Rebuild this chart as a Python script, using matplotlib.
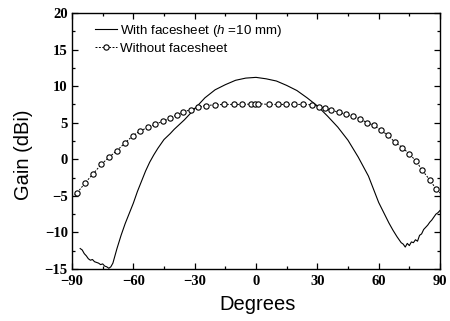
import matplotlib
matplotlib.use("Agg")
import matplotlib.pyplot as plt
from matplotlib.ticker import MultipleLocator

plt.rcParams['mathtext.fontset'] = 'custom'
plt.rcParams['mathtext.it'] = 'Liberation Sans:italic'
plt.rcParams['mathtext.rm'] = 'Liberation Sans'

# With facesheet (solid line)
ang_with = [-86, -85, -84, -83, -82, -81, -80, -79, -78, -77, -76, -75, -74, -73, -72,
            -71, -70, -69, -68, -67, -66, -65, -64, -62, -60, -58, -56, -54, -52, -50,
            -48, -45, -42, -40, -35, -30, -25, -20, -15, -10, -5, 0, 5, 10, 15, 20, 25,
            30, 35, 40, 45, 50, 55, 60, 65, 67, 69, 70, 71, 72, 73, 74, 75, 76, 77,
            78, 79, 80, 81, 82, 83, 84, 85, 86, 87, 88, 89, 90]
gain_with = [-12.2, -12.4, -12.9, -13.2, -13.6, -13.8, -13.7, -14.0, -14.1, -14.2, -14.4,
             -14.3, -14.6, -14.7, -14.9, -14.7, -14.2, -13.2, -12.2, -11.3, -10.4, -9.6,
             -8.8, -7.4, -6.0, -4.4, -3.0, -1.6, -0.4, 0.6, 1.5, 2.7, 3.5, 4.1, 5.4, 6.9,
             8.4, 9.5, 10.2, 10.8, 11.1, 11.2, 11.0, 10.7, 10.1, 9.4, 8.4, 7.3, 5.9, 4.4,
             2.6, 0.3, -2.3, -5.9, -8.7, -9.7, -10.6, -11.0, -11.4, -11.6, -12.0,
             -11.5, -11.8, -11.3, -11.4, -11.0, -11.2, -10.4, -10.2, -9.6, -9.3, -9.0,
             -8.6, -8.3, -7.9, -7.5, -7.3, -7.0]

# Without facesheet (open circles)
ang_without = [-90, -87.5, -83.5, -79.7, -75.7, -71.8, -68, -64.2, -60.3, -56.6, -52.8,
               -49.2, -45.5, -42, -38.7, -35.5, -32, -28.5, -24.5, -20, -15.5, -11, -6.7,
               -2.4, -0.5, 1.1, 6.3, 10.6, 14.6, 18.7, 23.1, 27.6, 31, 33.8, 36.9, 40.6,
               44.2, 47.5, 51.1, 54.5, 57.7, 61, 64.6, 67.8, 71.6, 74.8, 78.4, 81.3, 84.9,
               88.2, 90]
gain_without = [-5.2, -4.6, -3.2, -2.0, -0.7, 0.3, 1.2, 2.2, 3.2, 3.9, 4.35, 4.8, 5.2, 5.6,
                6.1, 6.45, 6.8, 7.1, 7.35, 7.45, 7.5, 7.5, 7.5, 7.55, 7.6, 7.6, 7.5, 7.5,
                7.5, 7.5, 7.5, 7.45, 7.2, 6.95, 6.7, 6.43, 6.15, 5.88, 5.5, 4.97, 4.65,
                3.97, 3.28, 2.37, 1.6, 0.78, -0.27, -1.5, -2.78, -4.1, -4.6]

xticks = [-90, -60, -30, 0, 30, 60, 90]
yticks = [-15, -10, -5, 0, 5, 10, 15, 20]

fig = plt.figure(figsize=(4.5, 3.21), dpi=100)
ax = fig.add_axes([72/450, 1-269/321, 368/450, 256/321])

ax.plot(ang_with, gain_with, color='black', lw=0.8,
        label='With facesheet ($h$ =10 mm)')
ax.plot(ang_without, gain_without, color='black', lw=0.7, ls=(0, (2, 1.5)),
        marker='o', markersize=3.8, markerfacecolor='white', markeredgewidth=0.8,
        markevery=slice(1, len(ang_without)-1), label='Without facesheet')

ax.set_xlim(-90, 90)
ax.set_ylim(-15, 20)
ax.set_xticks(xticks)
ax.set_yticks(yticks)
ax.xaxis.set_minor_locator(MultipleLocator(15))
ax.yaxis.set_minor_locator(MultipleLocator(2.5))
ax.tick_params(which='both', direction='in', top=True, right=True, width=0.9)
ax.tick_params(which='major', length=4)
ax.tick_params(which='minor', length=2)
ax.tick_params(axis='x', pad=4)
ax.tick_params(axis='y', pad=3)
for lab in ax.get_xticklabels() + ax.get_yticklabels():
    lab.set_fontfamily('Liberation Serif')
    lab.set_fontsize(10.5)
    lab.set_fontweight('bold')
for s in ax.spines.values():
    s.set_linewidth(1.0)

ax.set_xlabel('Degrees', fontfamily='Liberation Sans', fontsize=14.5)
ax.set_ylabel('Gain (dBi)', fontfamily='Liberation Sans', fontsize=14.5)
ax.xaxis.set_label_coords(0.503, -0.1)
ax.yaxis.set_label_coords(-0.107, 0.445)

leg = ax.legend(loc='upper left', bbox_to_anchor=(0.0625, 0.962), frameon=False,
                prop={'family': 'Liberation Sans', 'size': 9.6}, handlelength=1.65,
                handletextpad=0.25, borderpad=0, borderaxespad=0, labelspacing=0.3)

fig.savefig('out.png', dpi=100)
